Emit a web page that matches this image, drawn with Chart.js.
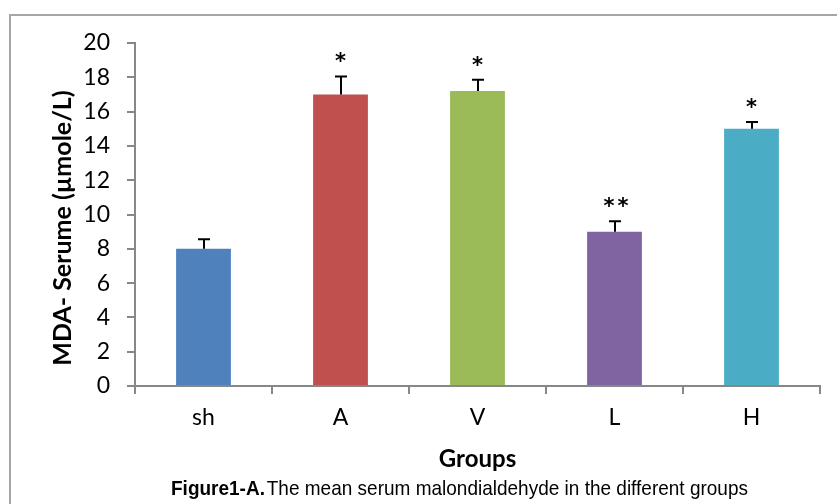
<!DOCTYPE html>
<html>
<head>
<meta charset="utf-8">
<script src="https://cdn.jsdelivr.net/npm/chart.js@4/dist/chart.umd.min.js"></script>
<style>
  html, body { margin: 0; padding: 0; background: #ffffff; }
  canvas { display: block; }
</style>
</head>
<body>
<canvas id="mda" width="837" height="504"></canvas>
<script>
// Serum MDA by group: mean with upper error bar and significance marks
const groups = ['sh', 'A', 'V', 'L', 'H'];
const meanMDA = [8, 17, 17.2, 9, 15];
const errorTop = [8.55, 18.05, 17.85, 9.6, 15.4];
const significance = ['', '*', '*', '**', '*'];
const yTickValues = [0, 2, 4, 6, 8, 10, 12, 14, 16, 18, 20];
const barColors = ['#4F81BD', '#C0504D', '#9BBB59', '#8064A2', '#4BACC6'];

const yTitle = 'MDA- Serume (\u00B5mole/L)';
const xTitle = 'Groups';
const captionBold = 'Figure1-A.';
const captionText = 'The mean serum malondialdehyde in the different groups';

const AXIS_GREY = '#878787';
const LABEL_FONT = 'Lato, "Open Sans", sans-serif';

// Outer frame, y-axis title and figure caption
const framePlugin = {
  id: 'frame',
  beforeDraw(chart) {
    const ctx = chart.ctx;
    ctx.save();
    ctx.fillStyle = '#ffffff';
    ctx.fillRect(0, 0, chart.width, chart.height);
    ctx.strokeStyle = '#a6a6a6';
    ctx.lineWidth = 2;
    ctx.beginPath();
    ctx.moveTo(10, chart.height);
    ctx.lineTo(10, 15);
    ctx.lineTo(chart.width, 15);
    ctx.stroke();
    ctx.restore();
  },
  afterDraw(chart) {
    const ctx = chart.ctx;
    ctx.save();
    // rotated y-axis title, sized to span the axis
    ctx.font = 'bold 22px ' + LABEL_FONT;
    const size = Math.min(25, 22 * 294 / ctx.measureText(yTitle).width);
    ctx.font = 'bold ' + size.toFixed(1) + 'px ' + LABEL_FONT;
    ctx.translate(63, 228);
    ctx.rotate(-Math.PI / 2);
    ctx.fillStyle = '#000000';
    ctx.textAlign = 'center';
    ctx.textBaseline = 'middle';
    ctx.fillText(yTitle, 0, 0);
    ctx.restore();

    // caption: bold lead-in followed by plain text, condensed to fit
    ctx.save();
    const boldFont = 'bold 21px "Liberation Sans", Arial, sans-serif';
    const plainFont = '21px "Liberation Sans", Arial, sans-serif';
    ctx.font = boldFont;
    const wBold = ctx.measureText(captionBold).width;
    ctx.font = plainFont;
    const wPlain = ctx.measureText(captionText).width;
    const gap = 2;
    const targetLeft = 171, targetWidth = 577;
    const sx = targetWidth / (wBold + gap + wPlain);
    ctx.translate(targetLeft, 495);
    ctx.scale(sx, 1);
    ctx.fillStyle = '#000000';
    ctx.textBaseline = 'alphabetic';
    ctx.textAlign = 'left';
    ctx.font = boldFont;
    ctx.fillText(captionBold, 0, 0);
    ctx.font = plainFont;
    ctx.fillText(captionText, wBold + gap, 0);
    ctx.restore();
  }
};

// Upper error bars and significance asterisks above each bar
const errorBarPlugin = {
  id: 'errorBars',
  afterDatasetsDraw(chart) {
    const ctx = chart.ctx;
    const meta = chart.getDatasetMeta(0);
    const yScale = chart.scales.y;
    ctx.save();
    ctx.strokeStyle = '#000000';
    ctx.lineWidth = 2;
    meta.data.forEach((bar, i) => {
      const x = Math.round(bar.x);
      const yTop = yScale.getPixelForValue(errorTop[i]);
      const yMean = yScale.getPixelForValue(meanMDA[i]);
      ctx.beginPath();
      ctx.moveTo(x, yMean);
      ctx.lineTo(x, yTop);
      ctx.moveTo(x - 6, yTop);
      ctx.lineTo(x + 6, yTop);
      ctx.stroke();
      if (significance[i]) {
        ctx.font = 'bold 21px "DejaVu Sans", sans-serif';
        ctx.fillStyle = '#000000';
        ctx.textAlign = 'center';
        ctx.textBaseline = 'alphabetic';
        ctx.letterSpacing = '3px';
        const m = ctx.measureText(significance[i]);
        const glyphMid = (m.actualBoundingBoxAscent - m.actualBoundingBoxDescent) / 2;
        ctx.fillText(significance[i], x + 1.5 * (significance[i].length - 1) + 1, yTop - 19 + glyphMid);
        ctx.letterSpacing = '0px';
      }
    });
    ctx.restore();
  }
};

new Chart(document.getElementById('mda'), {
  type: 'bar',
  data: {
    labels: groups,
    datasets: [{
      data: meanMDA,
      backgroundColor: barColors,
      borderWidth: 0,
      barPercentage: 0.4,
      categoryPercentage: 1.0
    }]
  },
  options: {
    responsive: false,
    animation: false,
    devicePixelRatio: 1,
    layout: { padding: { top: 43, right: 17, left: 0, bottom: 0 } },
    plugins: {
      legend: { display: false },
      tooltip: { enabled: false }
    },
    scales: {
      x: {
        afterFit(scale) { scale.height = 118; },
        grid: {
          display: true,
          drawOnChartArea: false,
          offset: true,
          tickLength: 8,
          color: AXIS_GREY,
          lineWidth: 2
        },
        border: { display: true, color: AXIS_GREY, width: 2 },
        ticks: {
          color: '#000000',
          padding: 10,
          font: { family: LABEL_FONT, size: 23 }
        },
        title: {
          display: true,
          text: xTitle,
          color: '#000000',
          font: { family: LABEL_FONT, size: 24, weight: 'bold' },
          padding: { top: 4, bottom: 30 }
        }
      },
      y: {
        min: 0,
        max: 20,
        afterFit(scale) { scale.width = 135; },
        afterBuildTicks(scale) {
          scale.ticks = yTickValues.map(v => ({ value: v }));
        },
        grid: {
          display: true,
          drawOnChartArea: false,
          tickLength: 8,
          color: AXIS_GREY,
          lineWidth: 2
        },
        border: { display: true, color: AXIS_GREY, width: 2 },
        ticks: {
          color: '#000000',
          padding: 17,
          font: { family: LABEL_FONT, size: 23 }
        }
      }
    }
  },
  plugins: [framePlugin, errorBarPlugin]
});
</script>
</body>
</html>
